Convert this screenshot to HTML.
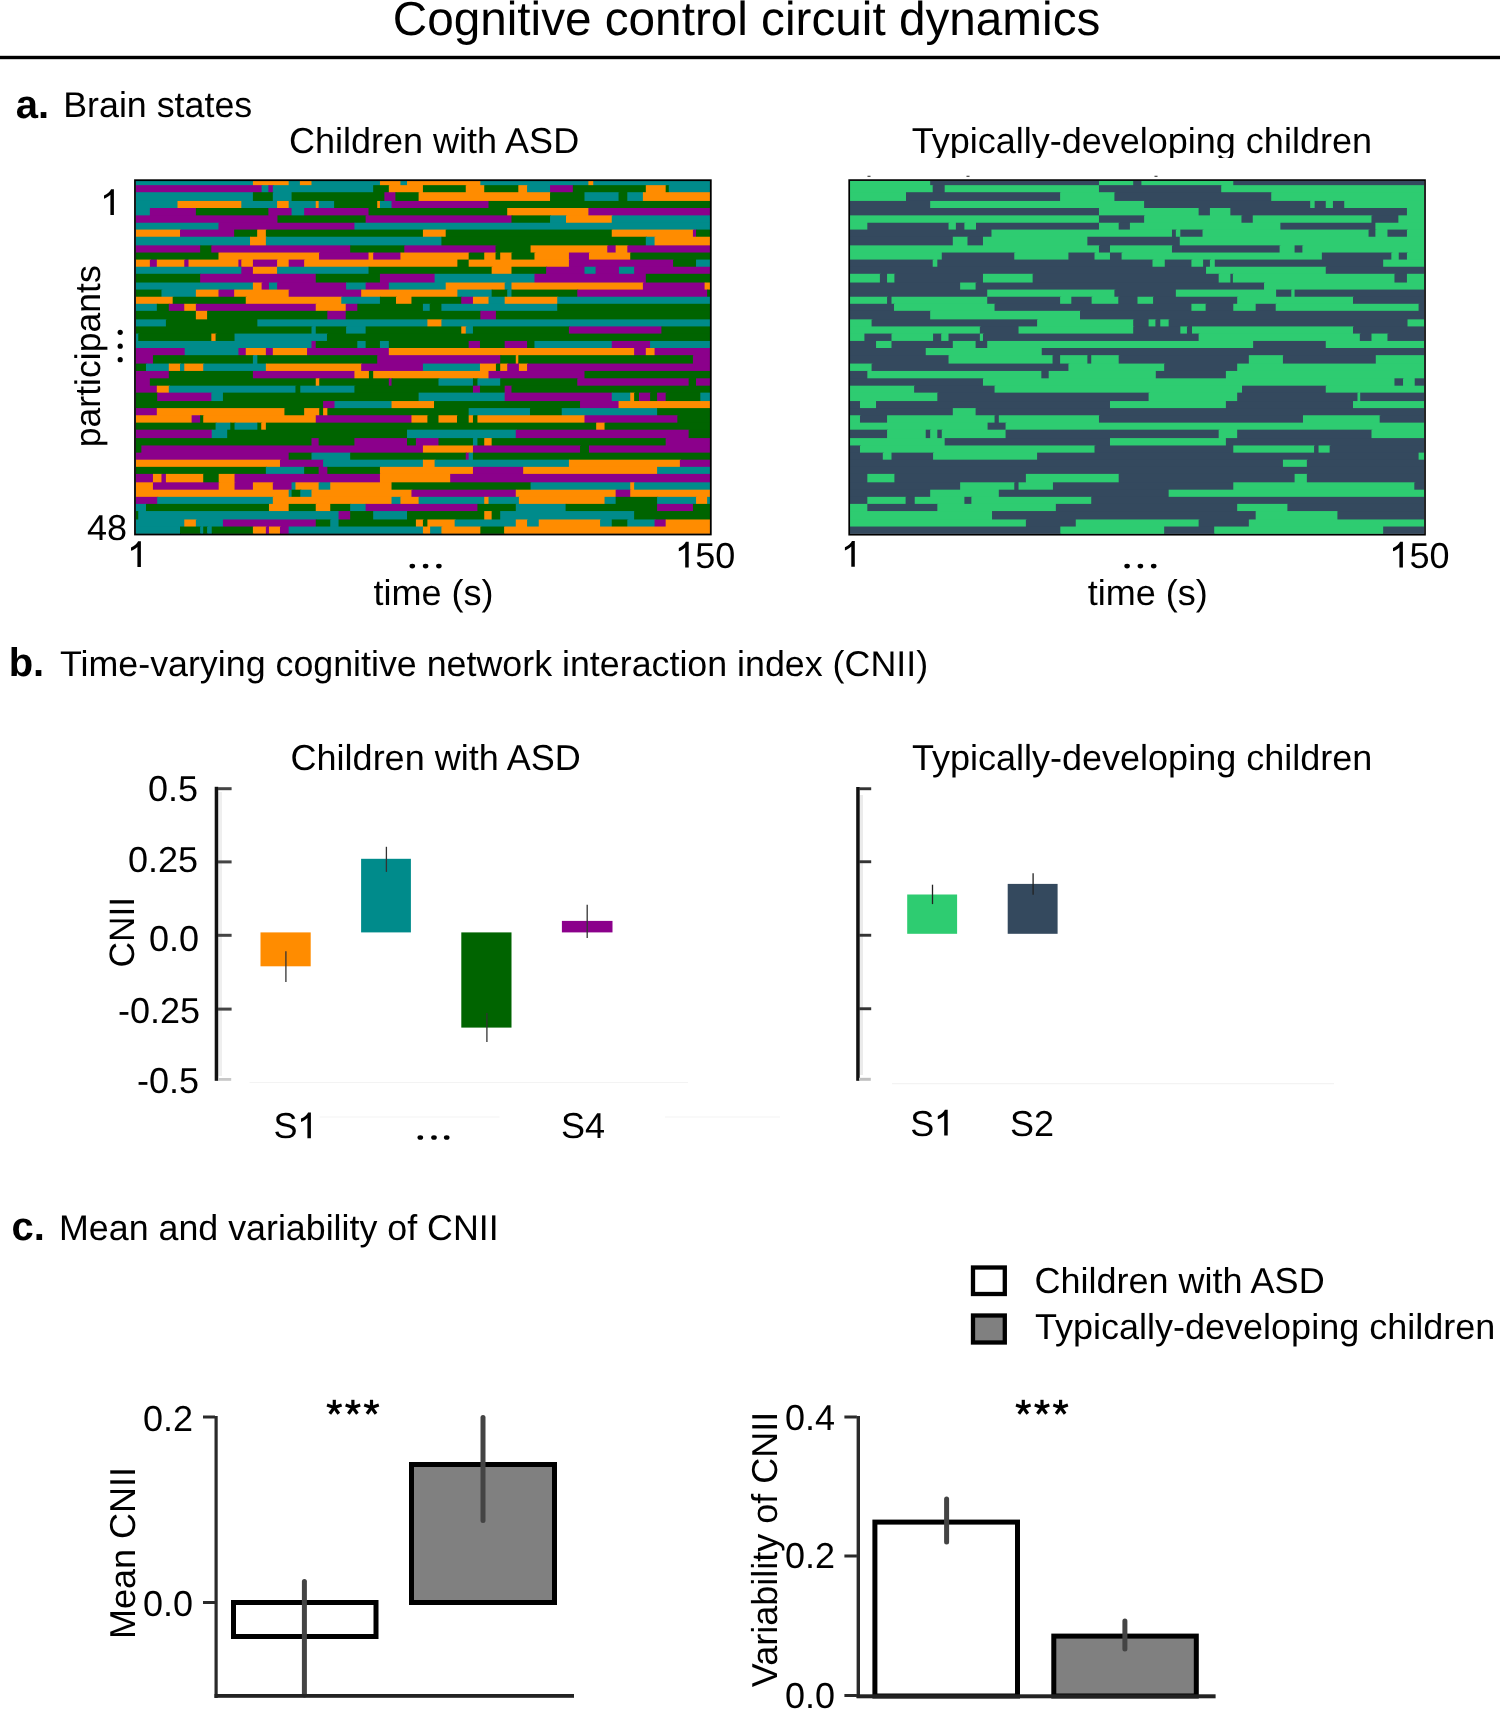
<!DOCTYPE html>
<html><head><meta charset="utf-8"><style>
html,body{margin:0;padding:0;background:#fff;}
body{width:1500px;height:1709px;overflow:hidden;}
svg{display:block;will-change:transform;}
text{font-family:"Liberation Sans",sans-serif;fill:#000;text-rendering:geometricPrecision;}
</style></head><body>
<svg width="1500" height="1709" viewBox="0 0 1500 1709">
<defs><path id="one" d="M0,0 V-25.8 H-2.8 C-3.8,-23.4 -6.6,-21.2 -9.9,-19.6 V-16.3 C-7.5,-17.2 -5.3,-18.5 -3.5,-20.2 V0 Z" fill="#000"/><g id="ast" stroke="#000" stroke-width="3.2"><line x1="0" y1="0" x2="0" y2="-7.7"/><line x1="0" y1="0" x2="7.3" y2="-2.4"/><line x1="0" y1="0" x2="-7.3" y2="-2.4"/><line x1="0" y1="0" x2="4.5" y2="6.2"/><line x1="0" y1="0" x2="-4.5" y2="6.2"/></g></defs>
<rect width="1500" height="1709" fill="#fff"/>
<!-- title -->
<text x="392.7" y="35" font-size="47.7">Cognitive control circuit dynamics</text>
<rect x="0" y="55.8" width="1500" height="3.4" fill="#000"/>

<!-- panel a -->
<text x="15.8" y="117.7" font-size="40" font-weight="bold">a.</text>
<text x="63.2" y="117.2" font-size="35.8">Brain states</text>
<text x="289" y="153" font-size="36">Children with ASD</text>
<svg x="900" y="120" width="500" height="38" overflow="hidden"><text x="11.7" y="33.3" font-size="36">Typically-developing children</text></svg>

<g shape-rendering="auto"><rect x="136.00" y="180.95" width="117.91" height="5.21" fill="#008b8b"/><rect x="252.91" y="180.95" width="36.77" height="5.21" fill="#ff8c00"/><rect x="288.68" y="180.95" width="12.21" height="5.21" fill="#008b8b"/><rect x="299.89" y="180.95" width="12.60" height="5.21" fill="#ff8c00"/><rect x="311.49" y="180.95" width="69.45" height="5.21" fill="#008b8b"/><rect x="379.94" y="180.95" width="21.49" height="5.21" fill="#ff8c00"/><rect x="400.43" y="180.95" width="7.57" height="5.21" fill="#008b8b"/><rect x="407.01" y="180.95" width="74.34" height="5.21" fill="#ff8c00"/><rect x="480.35" y="180.95" width="109.04" height="5.21" fill="#008b8b"/><rect x="588.39" y="180.95" width="5.87" height="5.21" fill="#ff8c00"/><rect x="593.25" y="180.95" width="116.75" height="5.21" fill="#008b8b"/><rect x="136.00" y="185.16" width="126.61" height="8.05" fill="#8b008b"/><rect x="261.61" y="185.16" width="7.77" height="8.05" fill="#008b8b"/><rect x="268.38" y="185.16" width="5.45" height="8.05" fill="#8b008b"/><rect x="272.82" y="185.16" width="101.35" height="8.05" fill="#008b8b"/><rect x="373.17" y="185.16" width="16.66" height="8.05" fill="#006400"/><rect x="388.83" y="185.16" width="35.09" height="8.05" fill="#ff8c00"/><rect x="422.92" y="185.16" width="43.83" height="8.05" fill="#006400"/><rect x="465.75" y="185.16" width="19.49" height="8.05" fill="#ff8c00"/><rect x="484.24" y="185.16" width="35.07" height="8.05" fill="#006400"/><rect x="518.31" y="185.16" width="9.76" height="8.05" fill="#ff8c00"/><rect x="527.07" y="185.16" width="23.97" height="8.05" fill="#008b8b"/><rect x="550.04" y="185.16" width="23.78" height="8.05" fill="#8b008b"/><rect x="572.81" y="185.16" width="74.00" height="8.05" fill="#006400"/><rect x="645.81" y="185.16" width="20.86" height="8.05" fill="#ff8c00"/><rect x="665.67" y="185.16" width="4.11" height="8.05" fill="#006400"/><rect x="668.78" y="185.16" width="41.22" height="8.05" fill="#008b8b"/><rect x="136.00" y="192.21" width="117.91" height="9.74" fill="#008b8b"/><rect x="252.91" y="192.21" width="20.91" height="9.74" fill="#006400"/><rect x="272.82" y="192.21" width="19.75" height="9.74" fill="#008b8b"/><rect x="291.58" y="192.21" width="93.81" height="9.74" fill="#006400"/><rect x="384.39" y="192.21" width="12.02" height="9.74" fill="#8b008b"/><rect x="395.41" y="192.21" width="24.20" height="9.74" fill="#006400"/><rect x="418.61" y="192.21" width="132.43" height="9.74" fill="#ff8c00"/><rect x="550.04" y="192.21" width="35.46" height="9.74" fill="#006400"/><rect x="584.49" y="192.21" width="35.07" height="9.74" fill="#008b8b"/><rect x="618.56" y="192.21" width="9.76" height="9.74" fill="#006400"/><rect x="627.32" y="192.21" width="16.57" height="9.74" fill="#008b8b"/><rect x="642.89" y="192.21" width="67.11" height="9.74" fill="#ff8c00"/><rect x="136.00" y="200.95" width="42.50" height="8.05" fill="#008b8b"/><rect x="177.50" y="200.95" width="64.81" height="8.05" fill="#ff8c00"/><rect x="241.31" y="200.95" width="36.77" height="8.05" fill="#008b8b"/><rect x="277.08" y="200.95" width="12.60" height="8.05" fill="#ff8c00"/><rect x="288.68" y="200.95" width="28.07" height="8.05" fill="#008b8b"/><rect x="315.75" y="200.95" width="3.90" height="8.05" fill="#ff8c00"/><rect x="318.65" y="200.95" width="16.47" height="8.05" fill="#008b8b"/><rect x="334.12" y="200.95" width="44.12" height="8.05" fill="#006400"/><rect x="377.23" y="200.95" width="3.71" height="8.05" fill="#ff8c00"/><rect x="379.94" y="200.95" width="12.60" height="8.05" fill="#008b8b"/><rect x="391.54" y="200.95" width="97.98" height="8.05" fill="#8b008b"/><rect x="488.52" y="200.95" width="221.48" height="8.05" fill="#006400"/><rect x="136.00" y="208.00" width="14.85" height="8.37" fill="#008b8b"/><rect x="149.85" y="208.00" width="47.02" height="8.37" fill="#8b008b"/><rect x="195.87" y="208.00" width="73.51" height="8.37" fill="#006400"/><rect x="268.38" y="208.00" width="24.20" height="8.37" fill="#8b008b"/><rect x="291.58" y="208.00" width="13.57" height="8.37" fill="#008b8b"/><rect x="304.15" y="208.00" width="65.39" height="8.37" fill="#8b008b"/><rect x="368.53" y="208.00" width="139.68" height="8.37" fill="#006400"/><rect x="507.21" y="208.00" width="82.18" height="8.37" fill="#ff8c00"/><rect x="588.39" y="208.00" width="121.61" height="8.37" fill="#8b008b"/><rect x="136.00" y="215.37" width="142.46" height="8.37" fill="#8b008b"/><rect x="277.46" y="215.37" width="89.17" height="8.37" fill="#006400"/><rect x="365.63" y="215.37" width="146.86" height="8.37" fill="#8b008b"/><rect x="511.49" y="215.37" width="39.54" height="8.37" fill="#006400"/><rect x="550.04" y="215.37" width="16.96" height="8.37" fill="#008b8b"/><rect x="566.00" y="215.37" width="46.75" height="8.37" fill="#ff8c00"/><rect x="611.75" y="215.37" width="98.25" height="8.37" fill="#008b8b"/><rect x="136.00" y="222.74" width="83.49" height="7.84" fill="#008b8b"/><rect x="218.49" y="222.74" width="136.92" height="7.84" fill="#8b008b"/><rect x="354.42" y="222.74" width="355.58" height="7.84" fill="#008b8b"/><rect x="136.00" y="229.58" width="45.02" height="8.16" fill="#ff8c00"/><rect x="180.02" y="229.58" width="55.14" height="8.16" fill="#8b008b"/><rect x="234.15" y="229.58" width="24.01" height="8.16" fill="#006400"/><rect x="257.16" y="229.58" width="9.70" height="8.16" fill="#ff8c00"/><rect x="265.86" y="229.58" width="158.06" height="8.16" fill="#006400"/><rect x="422.92" y="229.58" width="23.78" height="8.16" fill="#ff8c00"/><rect x="445.70" y="229.58" width="167.05" height="8.16" fill="#006400"/><rect x="611.75" y="229.58" width="82.18" height="8.16" fill="#ff8c00"/><rect x="692.92" y="229.58" width="4.11" height="8.16" fill="#8b008b"/><rect x="696.04" y="229.58" width="13.96" height="8.16" fill="#006400"/><rect x="136.00" y="236.74" width="115.01" height="9.63" fill="#008b8b"/><rect x="250.01" y="236.74" width="16.85" height="9.63" fill="#ff8c00"/><rect x="265.86" y="236.74" width="176.55" height="9.63" fill="#008b8b"/><rect x="441.41" y="236.74" width="205.40" height="9.63" fill="#006400"/><rect x="645.81" y="236.74" width="9.76" height="9.63" fill="#008b8b"/><rect x="654.57" y="236.74" width="55.43" height="9.63" fill="#ff8c00"/><rect x="136.00" y="245.37" width="65.13" height="8.16" fill="#8b008b"/><rect x="200.13" y="245.37" width="12.21" height="8.16" fill="#006400"/><rect x="211.34" y="245.37" width="139.82" height="8.16" fill="#8b008b"/><rect x="350.16" y="245.37" width="55.14" height="8.16" fill="#006400"/><rect x="404.30" y="245.37" width="92.23" height="8.16" fill="#8b008b"/><rect x="495.53" y="245.37" width="36.04" height="8.16" fill="#006400"/><rect x="530.57" y="245.37" width="77.70" height="8.16" fill="#ff8c00"/><rect x="607.27" y="245.37" width="9.37" height="8.16" fill="#8b008b"/><rect x="615.64" y="245.37" width="12.68" height="8.16" fill="#ff8c00"/><rect x="627.32" y="245.37" width="82.68" height="8.16" fill="#8b008b"/><rect x="136.00" y="252.53" width="83.49" height="8.05" fill="#006400"/><rect x="218.49" y="252.53" width="101.54" height="8.05" fill="#ff8c00"/><rect x="319.03" y="252.53" width="50.50" height="8.05" fill="#8b008b"/><rect x="368.53" y="252.53" width="5.64" height="8.05" fill="#ff8c00"/><rect x="373.17" y="252.53" width="28.26" height="8.05" fill="#8b008b"/><rect x="400.43" y="252.53" width="69.23" height="8.05" fill="#ff8c00"/><rect x="468.67" y="252.53" width="16.57" height="8.05" fill="#006400"/><rect x="484.24" y="252.53" width="12.29" height="8.05" fill="#ff8c00"/><rect x="495.53" y="252.53" width="5.67" height="8.05" fill="#006400"/><rect x="500.20" y="252.53" width="12.29" height="8.05" fill="#ff8c00"/><rect x="511.49" y="252.53" width="23.97" height="8.05" fill="#006400"/><rect x="534.46" y="252.53" width="35.46" height="8.05" fill="#ff8c00"/><rect x="568.92" y="252.53" width="21.05" height="8.05" fill="#8b008b"/><rect x="588.97" y="252.53" width="42.27" height="8.05" fill="#ff8c00"/><rect x="630.24" y="252.53" width="79.76" height="8.05" fill="#006400"/><rect x="136.00" y="259.58" width="14.85" height="8.16" fill="#ff8c00"/><rect x="149.85" y="259.58" width="7.96" height="8.16" fill="#8b008b"/><rect x="156.82" y="259.58" width="28.46" height="8.16" fill="#ff8c00"/><rect x="184.27" y="259.58" width="5.25" height="8.16" fill="#8b008b"/><rect x="188.52" y="259.58" width="50.88" height="8.16" fill="#ff8c00"/><rect x="238.41" y="259.58" width="3.90" height="8.16" fill="#8b008b"/><rect x="241.31" y="259.58" width="12.60" height="8.16" fill="#ff8c00"/><rect x="252.91" y="259.58" width="25.17" height="8.16" fill="#8b008b"/><rect x="277.08" y="259.58" width="12.60" height="8.16" fill="#ff8c00"/><rect x="288.68" y="259.58" width="16.47" height="8.16" fill="#8b008b"/><rect x="304.15" y="259.58" width="154.23" height="8.16" fill="#ff8c00"/><rect x="457.38" y="259.58" width="12.29" height="8.16" fill="#006400"/><rect x="468.67" y="259.58" width="101.25" height="8.16" fill="#ff8c00"/><rect x="568.92" y="259.58" width="105.15" height="8.16" fill="#8b008b"/><rect x="673.07" y="259.58" width="23.97" height="8.16" fill="#006400"/><rect x="696.04" y="259.58" width="13.96" height="8.16" fill="#008b8b"/><rect x="136.00" y="266.74" width="106.31" height="8.05" fill="#008b8b"/><rect x="241.31" y="266.74" width="12.60" height="8.05" fill="#8b008b"/><rect x="252.91" y="266.74" width="25.17" height="8.05" fill="#ff8c00"/><rect x="277.08" y="266.74" width="92.45" height="8.05" fill="#008b8b"/><rect x="368.53" y="266.74" width="124.11" height="8.05" fill="#006400"/><rect x="491.64" y="266.74" width="20.86" height="8.05" fill="#ff8c00"/><rect x="511.49" y="266.74" width="35.65" height="8.05" fill="#006400"/><rect x="546.14" y="266.74" width="39.35" height="8.05" fill="#8b008b"/><rect x="584.49" y="266.74" width="12.10" height="8.05" fill="#008b8b"/><rect x="595.59" y="266.74" width="24.36" height="8.05" fill="#8b008b"/><rect x="618.95" y="266.74" width="16.18" height="8.05" fill="#008b8b"/><rect x="634.13" y="266.74" width="75.87" height="8.05" fill="#8b008b"/><rect x="136.00" y="273.79" width="65.13" height="9.74" fill="#006400"/><rect x="200.13" y="273.79" width="116.62" height="9.74" fill="#8b008b"/><rect x="315.75" y="273.79" width="65.19" height="9.74" fill="#006400"/><rect x="379.94" y="273.79" width="55.66" height="9.74" fill="#8b008b"/><rect x="434.60" y="273.79" width="100.86" height="9.74" fill="#008b8b"/><rect x="534.46" y="273.79" width="112.35" height="9.74" fill="#8b008b"/><rect x="645.81" y="273.79" width="64.19" height="9.74" fill="#006400"/><rect x="136.00" y="282.53" width="117.91" height="8.05" fill="#008b8b"/><rect x="252.91" y="282.53" width="9.70" height="8.05" fill="#ff8c00"/><rect x="261.61" y="282.53" width="8.35" height="8.05" fill="#8b008b"/><rect x="268.96" y="282.53" width="9.12" height="8.05" fill="#008b8b"/><rect x="277.08" y="282.53" width="70.03" height="8.05" fill="#8b008b"/><rect x="346.10" y="282.53" width="20.53" height="8.05" fill="#008b8b"/><rect x="365.63" y="282.53" width="24.20" height="8.05" fill="#8b008b"/><rect x="388.83" y="282.53" width="57.86" height="8.05" fill="#008b8b"/><rect x="445.70" y="282.53" width="59.98" height="8.05" fill="#ff8c00"/><rect x="504.68" y="282.53" width="7.81" height="8.05" fill="#008b8b"/><rect x="511.49" y="282.53" width="132.40" height="8.05" fill="#ff8c00"/><rect x="642.89" y="282.53" width="62.71" height="8.05" fill="#8b008b"/><rect x="704.60" y="282.53" width="5.40" height="8.05" fill="#ff8c00"/><rect x="136.00" y="289.58" width="26.46" height="8.16" fill="#006400"/><rect x="161.46" y="289.58" width="35.42" height="8.16" fill="#008b8b"/><rect x="195.87" y="289.58" width="23.62" height="8.16" fill="#ff8c00"/><rect x="218.49" y="289.58" width="16.66" height="8.16" fill="#8b008b"/><rect x="234.15" y="289.58" width="55.52" height="8.16" fill="#ff8c00"/><rect x="288.68" y="289.58" width="73.51" height="8.16" fill="#8b008b"/><rect x="361.18" y="289.58" width="97.19" height="8.16" fill="#ff8c00"/><rect x="457.38" y="289.58" width="35.26" height="8.16" fill="#008b8b"/><rect x="491.64" y="289.58" width="16.57" height="8.16" fill="#006400"/><rect x="507.21" y="289.58" width="5.28" height="8.16" fill="#008b8b"/><rect x="511.49" y="289.58" width="66.80" height="8.16" fill="#006400"/><rect x="577.29" y="289.58" width="130.84" height="8.16" fill="#8b008b"/><rect x="707.13" y="289.58" width="2.87" height="8.16" fill="#006400"/><rect x="136.00" y="296.74" width="37.67" height="8.05" fill="#ff8c00"/><rect x="172.67" y="296.74" width="74.09" height="8.05" fill="#006400"/><rect x="245.76" y="296.74" width="96.51" height="8.05" fill="#ff8c00"/><rect x="341.27" y="296.74" width="39.67" height="8.05" fill="#008b8b"/><rect x="379.94" y="296.74" width="17.05" height="8.05" fill="#006400"/><rect x="395.99" y="296.74" width="16.47" height="8.05" fill="#ff8c00"/><rect x="411.46" y="296.74" width="50.81" height="8.05" fill="#006400"/><rect x="461.27" y="296.74" width="12.68" height="8.05" fill="#8b008b"/><rect x="472.95" y="296.74" width="16.57" height="8.05" fill="#ff8c00"/><rect x="488.52" y="296.74" width="17.16" height="8.05" fill="#008b8b"/><rect x="504.68" y="296.74" width="53.56" height="8.05" fill="#ff8c00"/><rect x="557.24" y="296.74" width="152.76" height="8.05" fill="#008b8b"/><rect x="136.00" y="303.79" width="21.82" height="8.05" fill="#008b8b"/><rect x="156.82" y="303.79" width="12.99" height="8.05" fill="#006400"/><rect x="168.80" y="303.79" width="16.47" height="8.05" fill="#8b008b"/><rect x="184.27" y="303.79" width="12.60" height="8.05" fill="#ff8c00"/><rect x="195.87" y="303.79" width="120.88" height="8.05" fill="#8b008b"/><rect x="315.75" y="303.79" width="30.97" height="8.05" fill="#ff8c00"/><rect x="345.72" y="303.79" width="12.60" height="8.05" fill="#8b008b"/><rect x="357.32" y="303.79" width="66.60" height="8.05" fill="#006400"/><rect x="422.92" y="303.79" width="7.81" height="8.05" fill="#008b8b"/><rect x="429.73" y="303.79" width="12.68" height="8.05" fill="#006400"/><rect x="441.41" y="303.79" width="116.83" height="8.05" fill="#008b8b"/><rect x="557.24" y="303.79" width="152.76" height="8.05" fill="#006400"/><rect x="136.00" y="310.84" width="60.87" height="9.53" fill="#006400"/><rect x="195.87" y="310.84" width="12.21" height="9.53" fill="#ff8c00"/><rect x="207.09" y="310.84" width="121.26" height="9.53" fill="#006400"/><rect x="327.35" y="310.84" width="19.37" height="9.53" fill="#8b008b"/><rect x="345.72" y="310.84" width="135.63" height="9.53" fill="#006400"/><rect x="480.35" y="310.84" width="16.57" height="9.53" fill="#8b008b"/><rect x="495.92" y="310.84" width="214.08" height="9.53" fill="#006400"/><rect x="136.00" y="319.37" width="30.90" height="8.05" fill="#008b8b"/><rect x="165.90" y="319.37" width="92.45" height="8.05" fill="#006400"/><rect x="257.36" y="319.37" width="171.04" height="8.05" fill="#008b8b"/><rect x="427.40" y="319.37" width="15.02" height="8.05" fill="#ff8c00"/><rect x="441.41" y="319.37" width="268.59" height="8.05" fill="#008b8b"/><rect x="136.00" y="326.42" width="176.49" height="8.16" fill="#006400"/><rect x="311.49" y="326.42" width="5.25" height="8.16" fill="#008b8b"/><rect x="315.75" y="326.42" width="31.36" height="8.16" fill="#006400"/><rect x="346.10" y="326.42" width="20.53" height="8.16" fill="#008b8b"/><rect x="365.63" y="326.42" width="96.64" height="8.16" fill="#006400"/><rect x="461.27" y="326.42" width="5.48" height="8.16" fill="#ff8c00"/><rect x="465.75" y="326.42" width="8.20" height="8.16" fill="#008b8b"/><rect x="472.95" y="326.42" width="96.97" height="8.16" fill="#006400"/><rect x="568.92" y="326.42" width="93.47" height="8.16" fill="#8b008b"/><rect x="661.39" y="326.42" width="48.61" height="8.16" fill="#006400"/><rect x="136.00" y="333.58" width="3.25" height="8.37" fill="#008b8b"/><rect x="138.25" y="333.58" width="74.09" height="8.37" fill="#006400"/><rect x="211.34" y="333.58" width="5.25" height="8.37" fill="#ff8c00"/><rect x="215.59" y="333.58" width="19.95" height="8.37" fill="#006400"/><rect x="234.54" y="333.58" width="93.42" height="8.37" fill="#008b8b"/><rect x="326.96" y="333.58" width="383.04" height="8.37" fill="#006400"/><rect x="136.00" y="340.95" width="176.49" height="8.05" fill="#008b8b"/><rect x="311.49" y="340.95" width="5.25" height="8.05" fill="#8b008b"/><rect x="315.75" y="340.95" width="42.57" height="8.05" fill="#006400"/><rect x="357.32" y="340.95" width="9.31" height="8.05" fill="#008b8b"/><rect x="365.63" y="340.95" width="15.31" height="8.05" fill="#006400"/><rect x="379.94" y="340.95" width="9.89" height="8.05" fill="#008b8b"/><rect x="388.83" y="340.95" width="80.83" height="8.05" fill="#006400"/><rect x="468.67" y="340.95" width="12.29" height="8.05" fill="#8b008b"/><rect x="479.96" y="340.95" width="25.72" height="8.05" fill="#006400"/><rect x="504.68" y="340.95" width="23.39" height="8.05" fill="#8b008b"/><rect x="527.07" y="340.95" width="8.40" height="8.05" fill="#006400"/><rect x="534.46" y="340.95" width="78.28" height="8.05" fill="#008b8b"/><rect x="611.75" y="340.95" width="39.35" height="8.05" fill="#8b008b"/><rect x="650.10" y="340.95" width="59.90" height="8.05" fill="#008b8b"/><rect x="136.00" y="348.00" width="49.66" height="8.16" fill="#8b008b"/><rect x="184.66" y="348.00" width="54.75" height="8.16" fill="#008b8b"/><rect x="238.41" y="348.00" width="8.35" height="8.16" fill="#8b008b"/><rect x="245.76" y="348.00" width="21.11" height="8.16" fill="#ff8c00"/><rect x="265.86" y="348.00" width="7.96" height="8.16" fill="#8b008b"/><rect x="272.82" y="348.00" width="35.22" height="8.16" fill="#ff8c00"/><rect x="307.05" y="348.00" width="82.79" height="8.16" fill="#8b008b"/><rect x="388.83" y="348.00" width="246.30" height="8.16" fill="#ff8c00"/><rect x="634.13" y="348.00" width="12.68" height="8.16" fill="#8b008b"/><rect x="645.81" y="348.00" width="9.76" height="8.16" fill="#ff8c00"/><rect x="654.57" y="348.00" width="55.43" height="8.16" fill="#8b008b"/><rect x="136.00" y="355.16" width="17.95" height="9.42" fill="#8b008b"/><rect x="152.95" y="355.16" width="100.96" height="9.42" fill="#006400"/><rect x="252.91" y="355.16" width="5.45" height="9.42" fill="#008b8b"/><rect x="257.36" y="355.16" width="120.88" height="9.42" fill="#006400"/><rect x="377.23" y="355.16" width="123.97" height="9.42" fill="#8b008b"/><rect x="500.20" y="355.16" width="16.57" height="9.42" fill="#006400"/><rect x="515.78" y="355.16" width="3.53" height="9.42" fill="#ff8c00"/><rect x="518.31" y="355.16" width="175.62" height="9.42" fill="#006400"/><rect x="692.92" y="355.16" width="17.08" height="9.42" fill="#8b008b"/><rect x="136.00" y="363.58" width="10.99" height="8.37" fill="#006400"/><rect x="145.99" y="363.58" width="23.82" height="8.37" fill="#008b8b"/><rect x="168.80" y="363.58" width="12.21" height="8.37" fill="#ff8c00"/><rect x="180.02" y="363.58" width="5.25" height="8.37" fill="#008b8b"/><rect x="184.27" y="363.58" width="19.95" height="8.37" fill="#ff8c00"/><rect x="203.22" y="363.58" width="63.65" height="8.37" fill="#008b8b"/><rect x="265.86" y="363.58" width="96.32" height="8.37" fill="#ff8c00"/><rect x="361.18" y="363.58" width="62.74" height="8.37" fill="#8b008b"/><rect x="422.92" y="363.58" width="58.04" height="8.37" fill="#008b8b"/><rect x="479.96" y="363.58" width="16.96" height="8.37" fill="#ff8c00"/><rect x="495.92" y="363.58" width="5.28" height="8.37" fill="#006400"/><rect x="500.20" y="363.58" width="8.01" height="8.37" fill="#ff8c00"/><rect x="507.21" y="363.58" width="12.68" height="8.37" fill="#8b008b"/><rect x="518.89" y="363.58" width="9.18" height="8.37" fill="#ff8c00"/><rect x="527.07" y="363.58" width="182.93" height="8.37" fill="#8b008b"/><rect x="136.00" y="370.95" width="33.80" height="8.37" fill="#8b008b"/><rect x="168.80" y="370.95" width="85.11" height="8.37" fill="#006400"/><rect x="252.91" y="370.95" width="102.51" height="8.37" fill="#8b008b"/><rect x="354.42" y="370.95" width="15.50" height="8.37" fill="#ff8c00"/><rect x="368.92" y="370.95" width="5.25" height="8.37" fill="#006400"/><rect x="373.17" y="370.95" width="116.35" height="8.37" fill="#ff8c00"/><rect x="488.52" y="370.95" width="96.97" height="8.37" fill="#8b008b"/><rect x="584.49" y="370.95" width="125.51" height="8.37" fill="#006400"/><rect x="136.00" y="378.32" width="14.85" height="8.36" fill="#8b008b"/><rect x="149.85" y="378.32" width="166.89" height="8.36" fill="#006400"/><rect x="315.75" y="378.32" width="4.48" height="8.36" fill="#ff8c00"/><rect x="319.23" y="378.32" width="70.61" height="8.36" fill="#006400"/><rect x="388.83" y="378.32" width="3.71" height="8.36" fill="#8b008b"/><rect x="391.54" y="378.32" width="47.95" height="8.36" fill="#006400"/><rect x="438.49" y="378.32" width="35.46" height="8.36" fill="#008b8b"/><rect x="472.95" y="378.32" width="5.48" height="8.36" fill="#006400"/><rect x="477.43" y="378.32" width="23.78" height="8.36" fill="#008b8b"/><rect x="500.20" y="378.32" width="78.09" height="8.36" fill="#006400"/><rect x="577.29" y="378.32" width="112.35" height="8.36" fill="#8b008b"/><rect x="688.64" y="378.32" width="8.40" height="8.36" fill="#006400"/><rect x="696.04" y="378.32" width="13.96" height="8.36" fill="#8b008b"/><rect x="136.00" y="385.68" width="21.82" height="7.95" fill="#8b008b"/><rect x="156.82" y="385.68" width="12.99" height="7.95" fill="#ff8c00"/><rect x="168.80" y="385.68" width="127.64" height="7.95" fill="#008b8b"/><rect x="295.45" y="385.68" width="5.83" height="7.95" fill="#006400"/><rect x="300.28" y="385.68" width="55.14" height="7.95" fill="#008b8b"/><rect x="354.42" y="385.68" width="119.53" height="7.95" fill="#006400"/><rect x="472.95" y="385.68" width="8.01" height="7.95" fill="#8b008b"/><rect x="479.96" y="385.68" width="25.72" height="7.95" fill="#006400"/><rect x="504.68" y="385.68" width="7.81" height="7.95" fill="#8b008b"/><rect x="511.49" y="385.68" width="198.51" height="7.95" fill="#006400"/><rect x="136.00" y="392.63" width="22.20" height="9.42" fill="#006400"/><rect x="157.20" y="392.63" width="55.14" height="9.42" fill="#8b008b"/><rect x="211.34" y="392.63" width="12.60" height="9.42" fill="#008b8b"/><rect x="222.94" y="392.63" width="196.67" height="9.42" fill="#006400"/><rect x="418.61" y="392.63" width="87.07" height="9.42" fill="#008b8b"/><rect x="504.68" y="392.63" width="108.07" height="9.42" fill="#8b008b"/><rect x="611.75" y="392.63" width="19.49" height="9.42" fill="#008b8b"/><rect x="630.24" y="392.63" width="4.89" height="9.42" fill="#ff8c00"/><rect x="634.13" y="392.63" width="5.87" height="9.42" fill="#006400"/><rect x="639.00" y="392.63" width="12.10" height="9.42" fill="#8b008b"/><rect x="650.10" y="392.63" width="8.01" height="9.42" fill="#006400"/><rect x="657.10" y="392.63" width="9.57" height="9.42" fill="#8b008b"/><rect x="665.67" y="392.63" width="35.65" height="9.42" fill="#006400"/><rect x="700.32" y="392.63" width="9.68" height="9.42" fill="#008b8b"/><rect x="136.00" y="401.05" width="188.10" height="8.05" fill="#006400"/><rect x="323.10" y="401.05" width="12.41" height="8.05" fill="#8b008b"/><rect x="334.50" y="401.05" width="58.04" height="8.05" fill="#008b8b"/><rect x="391.54" y="401.05" width="43.48" height="8.05" fill="#ff8c00"/><rect x="434.02" y="401.05" width="147.00" height="8.05" fill="#006400"/><rect x="580.02" y="401.05" width="39.54" height="8.05" fill="#8b008b"/><rect x="618.56" y="401.05" width="91.44" height="8.05" fill="#ff8c00"/><rect x="136.00" y="408.10" width="21.82" height="8.16" fill="#8b008b"/><rect x="156.82" y="408.10" width="128.61" height="8.16" fill="#ff8c00"/><rect x="284.43" y="408.10" width="20.72" height="8.16" fill="#006400"/><rect x="304.15" y="408.10" width="16.08" height="8.16" fill="#ff8c00"/><rect x="319.23" y="408.10" width="4.87" height="8.16" fill="#006400"/><rect x="323.10" y="408.10" width="5.25" height="8.16" fill="#ff8c00"/><rect x="327.35" y="408.10" width="142.32" height="8.16" fill="#006400"/><rect x="468.67" y="408.10" width="62.32" height="8.16" fill="#008b8b"/><rect x="529.99" y="408.10" width="32.73" height="8.16" fill="#006400"/><rect x="561.72" y="408.10" width="96.39" height="8.16" fill="#008b8b"/><rect x="657.10" y="408.10" width="52.90" height="8.16" fill="#006400"/><rect x="136.00" y="415.26" width="56.62" height="8.37" fill="#ff8c00"/><rect x="191.62" y="415.26" width="9.51" height="8.37" fill="#8b008b"/><rect x="200.13" y="415.26" width="4.09" height="8.37" fill="#006400"/><rect x="203.22" y="415.26" width="113.53" height="8.37" fill="#ff8c00"/><rect x="315.75" y="415.26" width="96.71" height="8.37" fill="#8b008b"/><rect x="411.46" y="415.26" width="16.94" height="8.37" fill="#ff8c00"/><rect x="427.40" y="415.26" width="12.10" height="8.37" fill="#006400"/><rect x="438.49" y="415.26" width="19.49" height="8.37" fill="#ff8c00"/><rect x="456.99" y="415.26" width="12.68" height="8.37" fill="#006400"/><rect x="468.67" y="415.26" width="5.28" height="8.37" fill="#ff8c00"/><rect x="472.95" y="415.26" width="5.48" height="8.37" fill="#006400"/><rect x="477.43" y="415.26" width="108.07" height="8.37" fill="#ff8c00"/><rect x="584.49" y="415.26" width="93.86" height="8.37" fill="#8b008b"/><rect x="677.35" y="415.26" width="32.65" height="8.37" fill="#006400"/><rect x="136.00" y="422.63" width="80.59" height="8.05" fill="#006400"/><rect x="215.59" y="422.63" width="15.69" height="8.05" fill="#008b8b"/><rect x="230.29" y="422.63" width="5.25" height="8.05" fill="#006400"/><rect x="234.54" y="422.63" width="23.82" height="8.05" fill="#008b8b"/><rect x="257.36" y="422.63" width="4.87" height="8.05" fill="#006400"/><rect x="261.22" y="422.63" width="5.64" height="8.05" fill="#ff8c00"/><rect x="265.86" y="422.63" width="331.31" height="8.05" fill="#006400"/><rect x="596.17" y="422.63" width="9.37" height="8.05" fill="#ff8c00"/><rect x="604.54" y="422.63" width="105.46" height="8.05" fill="#006400"/><rect x="136.00" y="429.68" width="76.73" height="9.42" fill="#8b008b"/><rect x="211.73" y="429.68" width="16.47" height="9.42" fill="#008b8b"/><rect x="227.19" y="429.68" width="180.81" height="9.42" fill="#006400"/><rect x="407.01" y="429.68" width="109.77" height="9.42" fill="#008b8b"/><rect x="515.78" y="429.68" width="173.86" height="9.42" fill="#8b008b"/><rect x="688.64" y="429.68" width="21.36" height="9.42" fill="#006400"/><rect x="136.00" y="438.10" width="176.49" height="8.37" fill="#006400"/><rect x="311.49" y="438.10" width="8.15" height="8.37" fill="#8b008b"/><rect x="318.65" y="438.10" width="36.77" height="8.37" fill="#006400"/><rect x="354.42" y="438.10" width="53.59" height="8.37" fill="#8b008b"/><rect x="407.01" y="438.10" width="9.89" height="8.37" fill="#006400"/><rect x="415.90" y="438.10" width="23.59" height="8.37" fill="#8b008b"/><rect x="438.49" y="438.10" width="35.46" height="8.37" fill="#006400"/><rect x="472.95" y="438.10" width="5.48" height="8.37" fill="#008b8b"/><rect x="477.43" y="438.10" width="7.81" height="8.37" fill="#006400"/><rect x="484.24" y="438.10" width="8.40" height="8.37" fill="#ff8c00"/><rect x="491.64" y="438.10" width="175.03" height="8.37" fill="#006400"/><rect x="665.67" y="438.10" width="44.33" height="8.37" fill="#8b008b"/><rect x="136.00" y="445.47" width="6.35" height="8.16" fill="#006400"/><rect x="141.35" y="445.47" width="282.57" height="8.16" fill="#8b008b"/><rect x="422.92" y="445.47" width="51.03" height="8.16" fill="#ff8c00"/><rect x="472.95" y="445.47" width="108.07" height="8.16" fill="#8b008b"/><rect x="580.02" y="445.47" width="9.95" height="8.16" fill="#006400"/><rect x="588.97" y="445.47" width="121.03" height="8.16" fill="#8b008b"/><rect x="136.00" y="452.63" width="153.68" height="8.05" fill="#8b008b"/><rect x="288.68" y="452.63" width="23.82" height="8.05" fill="#006400"/><rect x="311.49" y="452.63" width="39.67" height="8.05" fill="#008b8b"/><rect x="350.16" y="452.63" width="116.58" height="8.05" fill="#006400"/><rect x="465.75" y="452.63" width="3.92" height="8.05" fill="#8b008b"/><rect x="468.67" y="452.63" width="5.28" height="8.05" fill="#008b8b"/><rect x="472.95" y="452.63" width="237.05" height="8.05" fill="#006400"/><rect x="136.00" y="459.68" width="144.98" height="8.16" fill="#ff8c00"/><rect x="279.98" y="459.68" width="44.12" height="8.16" fill="#8b008b"/><rect x="323.10" y="459.68" width="100.82" height="8.16" fill="#008b8b"/><rect x="422.92" y="459.68" width="12.68" height="8.16" fill="#ff8c00"/><rect x="434.60" y="459.68" width="135.32" height="8.16" fill="#008b8b"/><rect x="568.92" y="459.68" width="111.96" height="8.16" fill="#ff8c00"/><rect x="679.88" y="459.68" width="30.12" height="8.16" fill="#8b008b"/><rect x="136.00" y="466.84" width="130.86" height="8.05" fill="#006400"/><rect x="265.86" y="466.84" width="39.28" height="8.05" fill="#008b8b"/><rect x="304.15" y="466.84" width="15.50" height="8.05" fill="#006400"/><rect x="318.65" y="466.84" width="9.70" height="8.05" fill="#8b008b"/><rect x="327.35" y="466.84" width="53.59" height="8.05" fill="#006400"/><rect x="379.94" y="466.84" width="94.01" height="8.05" fill="#ff8c00"/><rect x="472.95" y="466.84" width="51.22" height="8.05" fill="#8b008b"/><rect x="523.17" y="466.84" width="134.93" height="8.05" fill="#ff8c00"/><rect x="657.10" y="466.84" width="52.90" height="8.05" fill="#008b8b"/><rect x="136.00" y="473.89" width="17.95" height="9.43" fill="#8b008b"/><rect x="152.95" y="473.89" width="9.51" height="9.43" fill="#ff8c00"/><rect x="161.46" y="473.89" width="5.45" height="9.43" fill="#8b008b"/><rect x="165.90" y="473.89" width="38.32" height="9.43" fill="#ff8c00"/><rect x="203.22" y="473.89" width="16.47" height="9.43" fill="#006400"/><rect x="218.69" y="473.89" width="16.85" height="9.43" fill="#ff8c00"/><rect x="234.54" y="473.89" width="146.40" height="9.43" fill="#8b008b"/><rect x="379.94" y="473.89" width="71.23" height="9.43" fill="#ff8c00"/><rect x="450.17" y="473.89" width="259.83" height="9.43" fill="#8b008b"/><rect x="136.00" y="482.32" width="17.95" height="8.36" fill="#ff8c00"/><rect x="152.95" y="482.32" width="66.74" height="8.36" fill="#8b008b"/><rect x="218.69" y="482.32" width="16.85" height="8.36" fill="#ff8c00"/><rect x="234.54" y="482.32" width="19.37" height="8.36" fill="#8b008b"/><rect x="252.91" y="482.32" width="20.91" height="8.36" fill="#ff8c00"/><rect x="272.82" y="482.32" width="19.75" height="8.36" fill="#8b008b"/><rect x="291.58" y="482.32" width="4.87" height="8.36" fill="#008b8b"/><rect x="295.45" y="482.32" width="24.20" height="8.36" fill="#ff8c00"/><rect x="318.65" y="482.32" width="12.60" height="8.36" fill="#008b8b"/><rect x="330.25" y="482.32" width="62.29" height="8.36" fill="#ff8c00"/><rect x="391.54" y="482.32" width="140.03" height="8.36" fill="#006400"/><rect x="530.57" y="482.32" width="100.67" height="8.36" fill="#008b8b"/><rect x="630.24" y="482.32" width="4.89" height="8.36" fill="#ff8c00"/><rect x="634.13" y="482.32" width="75.87" height="8.36" fill="#008b8b"/><rect x="136.00" y="489.68" width="153.68" height="8.16" fill="#ff8c00"/><rect x="288.68" y="489.68" width="3.90" height="8.16" fill="#008b8b"/><rect x="291.58" y="489.68" width="9.70" height="8.16" fill="#006400"/><rect x="300.28" y="489.68" width="12.21" height="8.16" fill="#008b8b"/><rect x="311.49" y="489.68" width="100.96" height="8.16" fill="#ff8c00"/><rect x="411.46" y="489.68" width="105.32" height="8.16" fill="#8b008b"/><rect x="515.78" y="489.68" width="100.86" height="8.16" fill="#ff8c00"/><rect x="615.64" y="489.68" width="15.60" height="8.16" fill="#8b008b"/><rect x="630.24" y="489.68" width="79.76" height="8.16" fill="#ff8c00"/><rect x="136.00" y="496.84" width="22.20" height="8.05" fill="#8b008b"/><rect x="157.20" y="496.84" width="116.62" height="8.05" fill="#008b8b"/><rect x="272.82" y="496.84" width="119.72" height="8.05" fill="#ff8c00"/><rect x="391.54" y="496.84" width="9.89" height="8.05" fill="#008b8b"/><rect x="400.43" y="496.84" width="19.17" height="8.05" fill="#ff8c00"/><rect x="418.61" y="496.84" width="66.63" height="8.05" fill="#008b8b"/><rect x="484.24" y="496.84" width="5.28" height="8.05" fill="#ff8c00"/><rect x="488.52" y="496.84" width="31.37" height="8.05" fill="#008b8b"/><rect x="518.89" y="496.84" width="86.65" height="8.05" fill="#ff8c00"/><rect x="604.54" y="496.84" width="12.10" height="8.05" fill="#008b8b"/><rect x="615.64" y="496.84" width="42.46" height="8.05" fill="#006400"/><rect x="657.10" y="496.84" width="39.93" height="8.05" fill="#008b8b"/><rect x="696.04" y="496.84" width="12.10" height="8.05" fill="#ff8c00"/><rect x="707.13" y="496.84" width="2.87" height="8.05" fill="#008b8b"/><rect x="136.00" y="503.89" width="10.99" height="8.16" fill="#008b8b"/><rect x="145.99" y="503.89" width="123.97" height="8.16" fill="#006400"/><rect x="268.96" y="503.89" width="20.72" height="8.16" fill="#ff8c00"/><rect x="288.68" y="503.89" width="28.07" height="8.16" fill="#006400"/><rect x="315.75" y="503.89" width="15.50" height="8.16" fill="#ff8c00"/><rect x="330.25" y="503.89" width="20.91" height="8.16" fill="#006400"/><rect x="350.16" y="503.89" width="16.47" height="8.16" fill="#008b8b"/><rect x="365.63" y="503.89" width="112.79" height="8.16" fill="#8b008b"/><rect x="477.43" y="503.89" width="39.35" height="8.16" fill="#006400"/><rect x="515.78" y="503.89" width="50.83" height="8.16" fill="#008b8b"/><rect x="565.61" y="503.89" width="92.49" height="8.16" fill="#006400"/><rect x="657.10" y="503.89" width="36.82" height="8.16" fill="#8b008b"/><rect x="692.92" y="503.89" width="17.08" height="8.16" fill="#006400"/><rect x="136.00" y="511.05" width="3.25" height="9.42" fill="#006400"/><rect x="138.25" y="511.05" width="201.31" height="9.42" fill="#008b8b"/><rect x="338.56" y="511.05" width="12.60" height="9.42" fill="#8b008b"/><rect x="350.16" y="511.05" width="24.01" height="9.42" fill="#006400"/><rect x="373.17" y="511.05" width="34.84" height="9.42" fill="#008b8b"/><rect x="407.01" y="511.05" width="78.23" height="9.42" fill="#006400"/><rect x="484.24" y="511.05" width="8.40" height="9.42" fill="#ff8c00"/><rect x="491.64" y="511.05" width="9.57" height="9.42" fill="#006400"/><rect x="500.20" y="511.05" width="134.93" height="9.42" fill="#008b8b"/><rect x="634.13" y="511.05" width="75.87" height="9.42" fill="#006400"/><rect x="136.00" y="519.47" width="49.27" height="8.06" fill="#008b8b"/><rect x="184.27" y="519.47" width="12.60" height="8.06" fill="#ff8c00"/><rect x="195.87" y="519.47" width="28.07" height="8.06" fill="#008b8b"/><rect x="222.94" y="519.47" width="93.81" height="8.06" fill="#8b008b"/><rect x="315.75" y="519.47" width="15.50" height="8.06" fill="#006400"/><rect x="330.25" y="519.47" width="9.31" height="8.06" fill="#008b8b"/><rect x="338.56" y="519.47" width="78.34" height="8.06" fill="#006400"/><rect x="415.90" y="519.47" width="8.02" height="8.06" fill="#ff8c00"/><rect x="422.92" y="519.47" width="5.48" height="8.06" fill="#006400"/><rect x="427.40" y="519.47" width="28.25" height="8.06" fill="#ff8c00"/><rect x="454.65" y="519.47" width="62.13" height="8.06" fill="#008b8b"/><rect x="515.78" y="519.47" width="12.29" height="8.06" fill="#ff8c00"/><rect x="527.07" y="519.47" width="12.68" height="8.06" fill="#008b8b"/><rect x="538.75" y="519.47" width="62.32" height="8.06" fill="#ff8c00"/><rect x="600.07" y="519.47" width="12.68" height="8.06" fill="#008b8b"/><rect x="611.75" y="519.47" width="16.57" height="8.06" fill="#006400"/><rect x="627.32" y="519.47" width="28.25" height="8.06" fill="#008b8b"/><rect x="654.57" y="519.47" width="12.10" height="8.06" fill="#8b008b"/><rect x="665.67" y="519.47" width="44.33" height="8.06" fill="#ff8c00"/><rect x="136.00" y="526.53" width="45.02" height="7.36" fill="#008b8b"/><rect x="180.02" y="526.53" width="21.11" height="7.36" fill="#006400"/><rect x="200.13" y="526.53" width="4.09" height="7.36" fill="#008b8b"/><rect x="203.22" y="526.53" width="4.87" height="7.36" fill="#006400"/><rect x="207.09" y="526.53" width="5.64" height="7.36" fill="#008b8b"/><rect x="211.73" y="526.53" width="42.18" height="7.36" fill="#006400"/><rect x="252.91" y="526.53" width="13.95" height="7.36" fill="#ff8c00"/><rect x="265.86" y="526.53" width="4.09" height="7.36" fill="#8b008b"/><rect x="268.96" y="526.53" width="12.02" height="7.36" fill="#ff8c00"/><rect x="279.98" y="526.53" width="9.70" height="7.36" fill="#8b008b"/><rect x="288.68" y="526.53" width="135.24" height="7.36" fill="#008b8b"/><rect x="422.92" y="526.53" width="8.20" height="7.36" fill="#ff8c00"/><rect x="430.12" y="526.53" width="12.29" height="7.36" fill="#008b8b"/><rect x="441.41" y="526.53" width="39.93" height="7.36" fill="#ff8c00"/><rect x="480.35" y="526.53" width="24.75" height="7.36" fill="#006400"/><rect x="504.10" y="526.53" width="205.90" height="7.36" fill="#ff8c00"/></g>
<g><rect x="850.00" y="180.95" width="81.17" height="5.21" fill="#2ecc71"/><rect x="930.17" y="180.95" width="169.79" height="5.21" fill="#34495e"/><rect x="1098.97" y="180.95" width="35.22" height="5.21" fill="#2ecc71"/><rect x="1133.19" y="180.95" width="9.21" height="5.21" fill="#34495e"/><rect x="1141.40" y="180.95" width="92.88" height="5.21" fill="#2ecc71"/><rect x="1233.28" y="180.95" width="190.72" height="5.21" fill="#34495e"/><rect x="850.00" y="185.16" width="83.69" height="8.05" fill="#2ecc71"/><rect x="932.69" y="185.16" width="12.99" height="8.05" fill="#34495e"/><rect x="944.67" y="185.16" width="155.29" height="8.05" fill="#2ecc71"/><rect x="1098.97" y="185.16" width="123.24" height="8.05" fill="#34495e"/><rect x="1221.21" y="185.16" width="202.79" height="8.05" fill="#2ecc71"/><rect x="850.00" y="192.21" width="57.00" height="9.74" fill="#2ecc71"/><rect x="906.00" y="192.21" width="155.10" height="9.74" fill="#34495e"/><rect x="1060.10" y="192.21" width="55.33" height="9.74" fill="#2ecc71"/><rect x="1114.43" y="192.21" width="157.80" height="9.74" fill="#34495e"/><rect x="1271.24" y="192.21" width="152.76" height="9.74" fill="#2ecc71"/><rect x="850.00" y="200.95" width="81.17" height="8.05" fill="#34495e"/><rect x="930.17" y="200.95" width="214.95" height="8.05" fill="#2ecc71"/><rect x="1144.12" y="200.95" width="167.05" height="8.05" fill="#34495e"/><rect x="1310.17" y="200.95" width="5.48" height="8.05" fill="#2ecc71"/><rect x="1314.65" y="200.95" width="12.10" height="8.05" fill="#34495e"/><rect x="1325.75" y="200.95" width="8.20" height="8.05" fill="#2ecc71"/><rect x="1332.95" y="200.95" width="12.29" height="8.05" fill="#34495e"/><rect x="1344.24" y="200.95" width="79.76" height="8.05" fill="#2ecc71"/><rect x="850.00" y="208.00" width="249.97" height="8.37" fill="#34495e"/><rect x="1098.97" y="208.00" width="100.66" height="8.37" fill="#2ecc71"/><rect x="1198.63" y="208.00" width="12.29" height="8.37" fill="#34495e"/><rect x="1209.92" y="208.00" width="21.44" height="8.37" fill="#2ecc71"/><rect x="1230.36" y="208.00" width="177.56" height="8.37" fill="#34495e"/><rect x="1406.92" y="208.00" width="17.08" height="8.37" fill="#2ecc71"/><rect x="850.00" y="215.37" width="249.97" height="8.37" fill="#2ecc71"/><rect x="1098.97" y="215.37" width="46.16" height="8.37" fill="#34495e"/><rect x="1144.12" y="215.37" width="98.33" height="8.37" fill="#2ecc71"/><rect x="1241.46" y="215.37" width="12.29" height="8.37" fill="#34495e"/><rect x="1252.75" y="215.37" width="119.75" height="8.37" fill="#2ecc71"/><rect x="1371.49" y="215.37" width="27.86" height="8.37" fill="#34495e"/><rect x="1398.36" y="215.37" width="25.64" height="8.37" fill="#2ecc71"/><rect x="850.00" y="222.74" width="18.33" height="7.84" fill="#2ecc71"/><rect x="867.33" y="222.74" width="82.21" height="7.84" fill="#34495e"/><rect x="948.54" y="222.74" width="8.35" height="7.84" fill="#2ecc71"/><rect x="955.89" y="222.74" width="9.51" height="7.84" fill="#34495e"/><rect x="964.40" y="222.74" width="12.60" height="7.84" fill="#2ecc71"/><rect x="976.00" y="222.74" width="123.97" height="7.84" fill="#34495e"/><rect x="1098.97" y="222.74" width="20.72" height="7.84" fill="#2ecc71"/><rect x="1118.69" y="222.74" width="12.21" height="7.84" fill="#34495e"/><rect x="1129.90" y="222.74" width="151.49" height="7.84" fill="#2ecc71"/><rect x="1280.39" y="222.74" width="96.00" height="7.84" fill="#34495e"/><rect x="1375.39" y="222.74" width="48.61" height="7.84" fill="#2ecc71"/><rect x="850.00" y="229.58" width="142.46" height="8.16" fill="#34495e"/><rect x="991.46" y="229.58" width="181.50" height="8.16" fill="#2ecc71"/><rect x="1171.96" y="229.58" width="4.89" height="8.16" fill="#34495e"/><rect x="1175.85" y="229.58" width="5.48" height="8.16" fill="#2ecc71"/><rect x="1180.33" y="229.58" width="23.19" height="8.16" fill="#34495e"/><rect x="1202.52" y="229.58" width="167.05" height="8.16" fill="#2ecc71"/><rect x="1368.57" y="229.58" width="7.81" height="8.16" fill="#34495e"/><rect x="1375.39" y="229.58" width="13.07" height="8.16" fill="#2ecc71"/><rect x="1387.46" y="229.58" width="20.47" height="8.16" fill="#34495e"/><rect x="1406.92" y="229.58" width="17.08" height="8.16" fill="#2ecc71"/><rect x="850.00" y="236.74" width="103.80" height="9.63" fill="#34495e"/><rect x="952.80" y="236.74" width="15.69" height="9.63" fill="#2ecc71"/><rect x="967.49" y="236.74" width="16.47" height="9.63" fill="#34495e"/><rect x="982.96" y="236.74" width="105.41" height="9.63" fill="#2ecc71"/><rect x="1087.37" y="236.74" width="93.38" height="9.63" fill="#34495e"/><rect x="1179.75" y="236.74" width="244.25" height="9.63" fill="#2ecc71"/><rect x="850.00" y="245.37" width="249.97" height="8.16" fill="#2ecc71"/><rect x="1098.97" y="245.37" width="12.02" height="8.16" fill="#34495e"/><rect x="1109.99" y="245.37" width="62.97" height="8.16" fill="#2ecc71"/><rect x="1171.96" y="245.37" width="108.65" height="8.16" fill="#34495e"/><rect x="1279.61" y="245.37" width="15.99" height="8.16" fill="#2ecc71"/><rect x="1294.60" y="245.37" width="8.79" height="8.16" fill="#34495e"/><rect x="1302.39" y="245.37" width="121.61" height="8.16" fill="#2ecc71"/><rect x="850.00" y="252.53" width="92.77" height="8.05" fill="#2ecc71"/><rect x="941.77" y="252.53" width="73.51" height="8.05" fill="#34495e"/><rect x="1014.28" y="252.53" width="55.14" height="8.05" fill="#2ecc71"/><rect x="1068.42" y="252.53" width="27.10" height="8.05" fill="#34495e"/><rect x="1094.52" y="252.53" width="16.47" height="8.05" fill="#2ecc71"/><rect x="1109.99" y="252.53" width="12.60" height="8.05" fill="#34495e"/><rect x="1121.59" y="252.53" width="201.26" height="8.05" fill="#2ecc71"/><rect x="1321.85" y="252.53" width="70.50" height="8.05" fill="#34495e"/><rect x="1391.35" y="252.53" width="8.40" height="8.05" fill="#2ecc71"/><rect x="1398.75" y="252.53" width="9.18" height="8.05" fill="#34495e"/><rect x="1406.92" y="252.53" width="17.08" height="8.05" fill="#2ecc71"/><rect x="850.00" y="259.58" width="83.69" height="8.16" fill="#34495e"/><rect x="932.69" y="259.58" width="5.64" height="8.16" fill="#2ecc71"/><rect x="937.33" y="259.58" width="216.17" height="8.16" fill="#34495e"/><rect x="1152.49" y="259.58" width="13.26" height="8.16" fill="#2ecc71"/><rect x="1164.76" y="259.58" width="27.67" height="8.16" fill="#34495e"/><rect x="1191.43" y="259.58" width="12.68" height="8.16" fill="#2ecc71"/><rect x="1203.11" y="259.58" width="7.81" height="8.16" fill="#34495e"/><rect x="1209.92" y="259.58" width="5.87" height="8.16" fill="#2ecc71"/><rect x="1214.79" y="259.58" width="169.39" height="8.16" fill="#34495e"/><rect x="1383.17" y="259.58" width="40.83" height="8.16" fill="#2ecc71"/><rect x="850.00" y="266.74" width="357.03" height="8.05" fill="#34495e"/><rect x="1206.03" y="266.74" width="120.72" height="8.05" fill="#2ecc71"/><rect x="1325.75" y="266.74" width="98.25" height="8.05" fill="#34495e"/><rect x="850.00" y="273.79" width="30.90" height="9.74" fill="#2ecc71"/><rect x="879.90" y="273.79" width="8.15" height="9.74" fill="#34495e"/><rect x="887.06" y="273.79" width="8.35" height="9.74" fill="#2ecc71"/><rect x="894.40" y="273.79" width="89.55" height="9.74" fill="#34495e"/><rect x="982.96" y="273.79" width="50.69" height="9.74" fill="#2ecc71"/><rect x="1032.65" y="273.79" width="187.03" height="9.74" fill="#34495e"/><rect x="1218.68" y="273.79" width="12.68" height="9.74" fill="#2ecc71"/><rect x="1230.36" y="273.79" width="3.53" height="9.74" fill="#34495e"/><rect x="1232.89" y="273.79" width="162.57" height="9.74" fill="#2ecc71"/><rect x="1394.46" y="273.79" width="13.46" height="9.74" fill="#34495e"/><rect x="1406.92" y="273.79" width="17.08" height="9.74" fill="#2ecc71"/><rect x="850.00" y="282.53" width="111.14" height="8.05" fill="#34495e"/><rect x="960.14" y="282.53" width="16.47" height="8.05" fill="#2ecc71"/><rect x="975.61" y="282.53" width="289.43" height="8.05" fill="#34495e"/><rect x="1264.04" y="282.53" width="159.96" height="8.05" fill="#2ecc71"/><rect x="850.00" y="289.58" width="138.21" height="8.16" fill="#34495e"/><rect x="987.21" y="289.58" width="128.22" height="8.16" fill="#2ecc71"/><rect x="1114.43" y="289.58" width="62.42" height="8.16" fill="#34495e"/><rect x="1175.85" y="289.58" width="101.25" height="8.16" fill="#2ecc71"/><rect x="1276.11" y="289.58" width="16.18" height="8.16" fill="#34495e"/><rect x="1291.29" y="289.58" width="4.31" height="8.16" fill="#2ecc71"/><rect x="1294.60" y="289.58" width="129.40" height="8.16" fill="#34495e"/><rect x="850.00" y="296.74" width="38.06" height="8.05" fill="#2ecc71"/><rect x="887.06" y="296.74" width="5.45" height="8.05" fill="#34495e"/><rect x="891.50" y="296.74" width="96.71" height="8.05" fill="#2ecc71"/><rect x="987.21" y="296.74" width="73.89" height="8.05" fill="#34495e"/><rect x="1060.10" y="296.74" width="12.21" height="8.05" fill="#2ecc71"/><rect x="1071.32" y="296.74" width="21.30" height="8.05" fill="#34495e"/><rect x="1091.62" y="296.74" width="27.68" height="8.05" fill="#2ecc71"/><rect x="1118.30" y="296.74" width="20.20" height="8.05" fill="#34495e"/><rect x="1137.50" y="296.74" width="16.57" height="8.05" fill="#2ecc71"/><rect x="1153.08" y="296.74" width="85.10" height="8.05" fill="#34495e"/><rect x="1237.17" y="296.74" width="116.83" height="8.05" fill="#2ecc71"/><rect x="1353.00" y="296.74" width="71.00" height="8.05" fill="#34495e"/><rect x="850.00" y="303.79" width="45.02" height="8.05" fill="#34495e"/><rect x="894.02" y="303.79" width="101.54" height="8.05" fill="#2ecc71"/><rect x="994.56" y="303.79" width="197.87" height="8.05" fill="#34495e"/><rect x="1191.43" y="303.79" width="15.21" height="8.05" fill="#2ecc71"/><rect x="1205.64" y="303.79" width="28.64" height="8.05" fill="#34495e"/><rect x="1233.28" y="303.79" width="23.39" height="8.05" fill="#2ecc71"/><rect x="1255.67" y="303.79" width="21.05" height="8.05" fill="#34495e"/><rect x="1275.72" y="303.79" width="143.88" height="8.05" fill="#2ecc71"/><rect x="1418.60" y="303.79" width="5.40" height="8.05" fill="#34495e"/><rect x="850.00" y="310.84" width="81.17" height="9.53" fill="#34495e"/><rect x="930.17" y="310.84" width="150.85" height="9.53" fill="#2ecc71"/><rect x="1080.02" y="310.84" width="343.98" height="9.53" fill="#34495e"/><rect x="850.00" y="319.37" width="22.59" height="8.05" fill="#2ecc71"/><rect x="871.59" y="319.37" width="166.51" height="8.05" fill="#34495e"/><rect x="1037.10" y="319.37" width="97.09" height="8.05" fill="#2ecc71"/><rect x="1133.19" y="319.37" width="16.41" height="8.05" fill="#34495e"/><rect x="1148.60" y="319.37" width="7.81" height="8.05" fill="#2ecc71"/><rect x="1155.41" y="319.37" width="5.87" height="8.05" fill="#34495e"/><rect x="1160.28" y="319.37" width="9.37" height="8.05" fill="#2ecc71"/><rect x="1168.65" y="319.37" width="239.86" height="8.05" fill="#34495e"/><rect x="1407.51" y="319.37" width="16.49" height="8.05" fill="#2ecc71"/><rect x="850.00" y="326.42" width="130.86" height="8.16" fill="#2ecc71"/><rect x="979.86" y="326.42" width="39.67" height="8.16" fill="#34495e"/><rect x="1018.53" y="326.42" width="115.66" height="8.16" fill="#2ecc71"/><rect x="1133.19" y="326.42" width="48.14" height="8.16" fill="#34495e"/><rect x="1180.33" y="326.42" width="7.62" height="8.16" fill="#2ecc71"/><rect x="1186.95" y="326.42" width="6.06" height="8.16" fill="#34495e"/><rect x="1192.01" y="326.42" width="161.99" height="8.16" fill="#2ecc71"/><rect x="1353.00" y="326.42" width="71.00" height="8.16" fill="#34495e"/><rect x="850.00" y="333.58" width="15.43" height="8.37" fill="#2ecc71"/><rect x="864.43" y="333.58" width="28.07" height="8.37" fill="#34495e"/><rect x="891.50" y="333.58" width="42.57" height="8.37" fill="#2ecc71"/><rect x="933.07" y="333.58" width="9.12" height="8.37" fill="#34495e"/><rect x="941.19" y="333.58" width="8.35" height="8.37" fill="#2ecc71"/><rect x="948.54" y="333.58" width="32.32" height="8.37" fill="#34495e"/><rect x="979.86" y="333.58" width="4.09" height="8.37" fill="#2ecc71"/><rect x="982.96" y="333.58" width="216.67" height="8.37" fill="#34495e"/><rect x="1198.63" y="333.58" width="162.18" height="8.37" fill="#2ecc71"/><rect x="1359.81" y="333.58" width="12.68" height="8.37" fill="#34495e"/><rect x="1371.49" y="333.58" width="16.96" height="8.37" fill="#2ecc71"/><rect x="1387.46" y="333.58" width="36.54" height="8.37" fill="#34495e"/><rect x="850.00" y="340.95" width="27.04" height="8.05" fill="#34495e"/><rect x="876.04" y="340.95" width="16.47" height="8.05" fill="#2ecc71"/><rect x="891.50" y="340.95" width="62.29" height="8.05" fill="#34495e"/><rect x="952.80" y="340.95" width="23.82" height="8.05" fill="#2ecc71"/><rect x="975.61" y="340.95" width="12.60" height="8.05" fill="#34495e"/><rect x="987.21" y="340.95" width="266.92" height="8.05" fill="#2ecc71"/><rect x="1253.14" y="340.95" width="73.61" height="8.05" fill="#34495e"/><rect x="1325.75" y="340.95" width="98.25" height="8.05" fill="#2ecc71"/><rect x="850.00" y="348.00" width="76.73" height="8.16" fill="#34495e"/><rect x="925.73" y="348.00" width="117.01" height="8.16" fill="#2ecc71"/><rect x="1041.74" y="348.00" width="382.26" height="8.16" fill="#34495e"/><rect x="850.00" y="355.16" width="99.54" height="9.42" fill="#34495e"/><rect x="948.54" y="355.16" width="105.02" height="9.42" fill="#2ecc71"/><rect x="1052.56" y="355.16" width="8.54" height="9.42" fill="#34495e"/><rect x="1060.10" y="355.16" width="28.26" height="9.42" fill="#2ecc71"/><rect x="1087.37" y="355.16" width="4.87" height="9.42" fill="#34495e"/><rect x="1091.23" y="355.16" width="28.46" height="9.42" fill="#2ecc71"/><rect x="1118.69" y="355.16" width="131.16" height="9.42" fill="#34495e"/><rect x="1248.85" y="355.16" width="35.07" height="9.42" fill="#2ecc71"/><rect x="1282.92" y="355.16" width="93.86" height="9.42" fill="#34495e"/><rect x="1375.78" y="355.16" width="48.22" height="9.42" fill="#2ecc71"/><rect x="850.00" y="363.58" width="22.59" height="8.37" fill="#2ecc71"/><rect x="871.59" y="363.58" width="197.83" height="8.37" fill="#34495e"/><rect x="1068.42" y="363.58" width="96.76" height="8.37" fill="#2ecc71"/><rect x="1164.17" y="363.58" width="74.00" height="8.37" fill="#34495e"/><rect x="1237.17" y="363.58" width="186.83" height="8.37" fill="#2ecc71"/><rect x="850.00" y="370.95" width="18.33" height="8.37" fill="#34495e"/><rect x="867.33" y="370.95" width="175.01" height="8.37" fill="#2ecc71"/><rect x="1041.35" y="370.95" width="8.35" height="8.37" fill="#34495e"/><rect x="1048.70" y="370.95" width="108.11" height="8.37" fill="#2ecc71"/><rect x="1155.80" y="370.95" width="71.08" height="8.37" fill="#34495e"/><rect x="1225.88" y="370.95" width="198.12" height="8.37" fill="#2ecc71"/><rect x="850.00" y="378.32" width="133.96" height="8.36" fill="#34495e"/><rect x="982.96" y="378.32" width="412.51" height="8.36" fill="#2ecc71"/><rect x="1394.46" y="378.32" width="9.57" height="8.36" fill="#34495e"/><rect x="1403.03" y="378.32" width="12.68" height="8.36" fill="#2ecc71"/><rect x="1414.71" y="378.32" width="9.29" height="8.36" fill="#34495e"/><rect x="850.00" y="385.68" width="65.13" height="7.95" fill="#2ecc71"/><rect x="914.13" y="385.68" width="81.43" height="7.95" fill="#34495e"/><rect x="994.56" y="385.68" width="248.48" height="7.95" fill="#2ecc71"/><rect x="1242.04" y="385.68" width="84.71" height="7.95" fill="#34495e"/><rect x="1325.75" y="385.68" width="98.25" height="7.95" fill="#2ecc71"/><rect x="850.00" y="392.63" width="88.33" height="9.42" fill="#2ecc71"/><rect x="937.33" y="392.63" width="212.27" height="9.42" fill="#34495e"/><rect x="1148.60" y="392.63" width="89.57" height="9.42" fill="#2ecc71"/><rect x="1237.17" y="392.63" width="121.30" height="9.42" fill="#34495e"/><rect x="1357.48" y="392.63" width="3.73" height="9.42" fill="#2ecc71"/><rect x="1360.20" y="392.63" width="63.80" height="9.42" fill="#34495e"/><rect x="850.00" y="401.05" width="10.99" height="8.05" fill="#34495e"/><rect x="859.99" y="401.05" width="17.05" height="8.05" fill="#2ecc71"/><rect x="876.04" y="401.05" width="234.95" height="8.05" fill="#34495e"/><rect x="1109.99" y="401.05" width="116.89" height="8.05" fill="#2ecc71"/><rect x="1225.88" y="401.05" width="128.12" height="8.05" fill="#34495e"/><rect x="1353.00" y="401.05" width="71.00" height="8.05" fill="#2ecc71"/><rect x="850.00" y="408.10" width="103.80" height="8.16" fill="#34495e"/><rect x="952.80" y="408.10" width="23.82" height="8.16" fill="#2ecc71"/><rect x="975.61" y="408.10" width="448.39" height="8.16" fill="#34495e"/><rect x="850.00" y="415.26" width="10.99" height="8.37" fill="#2ecc71"/><rect x="859.99" y="415.26" width="28.07" height="8.37" fill="#34495e"/><rect x="887.06" y="415.26" width="108.50" height="8.37" fill="#2ecc71"/><rect x="994.56" y="415.26" width="5.25" height="8.37" fill="#34495e"/><rect x="998.81" y="415.26" width="101.15" height="8.37" fill="#2ecc71"/><rect x="1098.97" y="415.26" width="205.00" height="8.37" fill="#34495e"/><rect x="1302.97" y="415.26" width="77.70" height="8.37" fill="#2ecc71"/><rect x="1379.67" y="415.26" width="44.33" height="8.37" fill="#34495e"/><rect x="850.00" y="422.63" width="138.60" height="8.05" fill="#2ecc71"/><rect x="987.60" y="422.63" width="18.98" height="8.05" fill="#34495e"/><rect x="1005.58" y="422.63" width="418.42" height="8.05" fill="#2ecc71"/><rect x="850.00" y="429.68" width="38.06" height="9.42" fill="#34495e"/><rect x="887.06" y="429.68" width="39.67" height="9.42" fill="#2ecc71"/><rect x="925.73" y="429.68" width="5.45" height="9.42" fill="#34495e"/><rect x="930.17" y="429.68" width="8.15" height="9.42" fill="#2ecc71"/><rect x="937.33" y="429.68" width="5.45" height="9.42" fill="#34495e"/><rect x="941.77" y="429.68" width="64.81" height="9.42" fill="#2ecc71"/><rect x="1005.58" y="429.68" width="214.10" height="9.42" fill="#34495e"/><rect x="1218.68" y="429.68" width="19.49" height="9.42" fill="#2ecc71"/><rect x="1237.17" y="429.68" width="135.32" height="9.42" fill="#34495e"/><rect x="1371.49" y="429.68" width="52.51" height="9.42" fill="#2ecc71"/><rect x="850.00" y="438.10" width="95.67" height="8.37" fill="#2ecc71"/><rect x="944.67" y="438.10" width="166.31" height="8.37" fill="#34495e"/><rect x="1109.99" y="438.10" width="116.89" height="8.37" fill="#2ecc71"/><rect x="1225.88" y="438.10" width="198.12" height="8.37" fill="#34495e"/><rect x="850.00" y="445.47" width="10.99" height="8.16" fill="#34495e"/><rect x="859.99" y="445.47" width="235.53" height="8.16" fill="#2ecc71"/><rect x="1094.52" y="445.47" width="139.76" height="8.16" fill="#34495e"/><rect x="1233.28" y="445.47" width="81.79" height="8.16" fill="#2ecc71"/><rect x="1314.07" y="445.47" width="5.48" height="8.16" fill="#34495e"/><rect x="1318.54" y="445.47" width="12.10" height="8.16" fill="#2ecc71"/><rect x="1329.64" y="445.47" width="94.36" height="8.16" fill="#34495e"/><rect x="850.00" y="452.63" width="33.80" height="8.05" fill="#34495e"/><rect x="882.80" y="452.63" width="9.70" height="8.05" fill="#2ecc71"/><rect x="891.50" y="452.63" width="42.57" height="8.05" fill="#34495e"/><rect x="933.07" y="452.63" width="105.02" height="8.05" fill="#2ecc71"/><rect x="1037.10" y="452.63" width="382.51" height="8.05" fill="#34495e"/><rect x="1418.60" y="452.63" width="5.40" height="8.05" fill="#2ecc71"/><rect x="850.00" y="459.68" width="433.92" height="8.16" fill="#34495e"/><rect x="1282.92" y="459.68" width="24.94" height="8.16" fill="#2ecc71"/><rect x="1306.86" y="459.68" width="117.14" height="8.16" fill="#34495e"/><rect x="850.00" y="466.84" width="574.00" height="8.05" fill="#34495e"/><rect x="850.00" y="473.89" width="18.33" height="9.43" fill="#34495e"/><rect x="867.33" y="473.89" width="28.07" height="9.43" fill="#2ecc71"/><rect x="894.40" y="473.89" width="132.48" height="9.43" fill="#34495e"/><rect x="1025.88" y="473.89" width="93.81" height="9.43" fill="#2ecc71"/><rect x="1118.69" y="473.89" width="176.91" height="9.43" fill="#34495e"/><rect x="1294.60" y="473.89" width="13.26" height="9.43" fill="#2ecc71"/><rect x="1306.86" y="473.89" width="117.14" height="9.43" fill="#34495e"/><rect x="850.00" y="482.32" width="111.14" height="8.36" fill="#34495e"/><rect x="960.14" y="482.32" width="55.14" height="8.36" fill="#2ecc71"/><rect x="1014.28" y="482.32" width="5.25" height="8.36" fill="#34495e"/><rect x="1018.53" y="482.32" width="35.42" height="8.36" fill="#2ecc71"/><rect x="1052.95" y="482.32" width="181.33" height="8.36" fill="#34495e"/><rect x="1233.28" y="482.32" width="182.04" height="8.36" fill="#2ecc71"/><rect x="1414.32" y="482.32" width="9.68" height="8.36" fill="#34495e"/><rect x="850.00" y="489.68" width="81.17" height="8.16" fill="#34495e"/><rect x="930.17" y="489.68" width="69.64" height="8.16" fill="#2ecc71"/><rect x="998.81" y="489.68" width="170.84" height="8.16" fill="#34495e"/><rect x="1168.65" y="489.68" width="255.35" height="8.16" fill="#2ecc71"/><rect x="850.00" y="496.84" width="18.33" height="8.05" fill="#34495e"/><rect x="867.33" y="496.84" width="39.28" height="8.05" fill="#2ecc71"/><rect x="905.62" y="496.84" width="10.09" height="8.05" fill="#34495e"/><rect x="914.71" y="496.84" width="50.69" height="8.05" fill="#2ecc71"/><rect x="964.40" y="496.84" width="7.96" height="8.05" fill="#34495e"/><rect x="971.36" y="496.84" width="120.88" height="8.05" fill="#2ecc71"/><rect x="1091.23" y="496.84" width="332.77" height="8.05" fill="#34495e"/><rect x="850.00" y="503.89" width="18.33" height="8.16" fill="#2ecc71"/><rect x="867.33" y="503.89" width="70.99" height="8.16" fill="#34495e"/><rect x="937.33" y="503.89" width="119.52" height="8.16" fill="#2ecc71"/><rect x="1055.85" y="503.89" width="182.32" height="8.16" fill="#34495e"/><rect x="1237.17" y="503.89" width="51.22" height="8.16" fill="#2ecc71"/><rect x="1287.40" y="503.89" width="136.60" height="8.16" fill="#34495e"/><rect x="850.00" y="511.05" width="143.04" height="9.42" fill="#2ecc71"/><rect x="992.04" y="511.05" width="264.62" height="9.42" fill="#34495e"/><rect x="1255.67" y="511.05" width="82.76" height="9.42" fill="#2ecc71"/><rect x="1337.43" y="511.05" width="86.57" height="9.42" fill="#34495e"/><rect x="850.00" y="519.47" width="176.88" height="8.06" fill="#2ecc71"/><rect x="1025.88" y="519.47" width="50.88" height="8.06" fill="#34495e"/><rect x="1075.76" y="519.47" width="123.86" height="8.06" fill="#2ecc71"/><rect x="1198.63" y="519.47" width="51.22" height="8.06" fill="#34495e"/><rect x="1248.85" y="519.47" width="175.15" height="8.06" fill="#2ecc71"/><rect x="850.00" y="526.53" width="211.30" height="7.36" fill="#34495e"/><rect x="1060.30" y="526.53" width="104.88" height="7.36" fill="#2ecc71"/><rect x="1164.17" y="526.53" width="51.03" height="7.36" fill="#34495e"/><rect x="1214.20" y="526.53" width="169.97" height="7.36" fill="#2ecc71"/><rect x="1383.17" y="526.53" width="40.83" height="7.36" fill="#34495e"/></g>

<!-- raster frames -->
<rect x="135" y="180.2" width="575.8" height="354.3" fill="none" stroke="#000" stroke-width="1.8"/>
<rect x="849.2" y="180.1" width="575.8" height="354.6" fill="none" stroke="#000" stroke-width="1.7"/>
<g fill="#555"><rect x="867.5" y="175.7" width="3" height="1.3"/><rect x="966.5" y="175.7" width="3" height="1.3"/><rect x="1154.5" y="175.7" width="3" height="1.3"/></g>

<use href="#one" x="113.9" y="215"/>
<text x="87" y="540.3" font-size="36">48</text>
<text transform="translate(100,447.2) rotate(-90)" font-size="35.6">participants</text>
<circle cx="120.2" cy="332.3" r="2.6" fill="#000"/><circle cx="120.2" cy="346.2" r="2.6" fill="#000"/><circle cx="120.2" cy="359.7" r="2.6" fill="#000"/>
<use href="#one" x="140.9" y="567.1"/>
<use href="#one" x="688.7" y="567.6"/><text x="695.2" y="567.6" font-size="36">50</text>
<ellipse cx="412.3" cy="566.1" rx="2.8" ry="2.3" fill="#000"/><ellipse cx="425.6" cy="566.1" rx="2.8" ry="2.3" fill="#000"/><ellipse cx="438.9" cy="566.1" rx="2.8" ry="2.3" fill="#000"/>
<text x="373.4" y="605.3" font-size="36">time (s)</text>

<use href="#one" x="854.8" y="566.8"/>
<use href="#one" x="1402.9" y="567.6"/><text x="1409.4" y="567.6" font-size="36">50</text>
<ellipse cx="1127.1" cy="566.1" rx="2.8" ry="2.3" fill="#000"/><ellipse cx="1140.4" cy="566.1" rx="2.8" ry="2.3" fill="#000"/><ellipse cx="1153.7" cy="566.1" rx="2.8" ry="2.3" fill="#000"/>
<text x="1087.7" y="605.3" font-size="36">time (s)</text>

<!-- panel b -->
<text x="8.7" y="676.3" font-size="40" font-weight="bold">b.</text>
<text x="60" y="676" font-size="35.8">Time-varying cognitive network interaction index (CNII)</text>
<text x="290.6" y="770" font-size="36">Children with ASD</text>
<text x="912" y="770" font-size="36">Typically-developing children</text>

<!-- left b axes -->
<rect x="218.2" y="792" width="3.8" height="284" fill="#efefef"/>
<rect x="214.7" y="786.8" width="3.5" height="294" fill="#111"/>
<g fill="#444">
<rect x="218" y="787.2" width="13.6" height="3"/>
<rect x="218" y="860.4" width="13.6" height="3"/>
<rect x="218" y="933.8" width="13.6" height="3"/>
<rect x="218" y="1007.6" width="13.6" height="3"/>
<rect x="218" y="1078" width="13.2" height="2.8" fill="#c8c8c8"/>
</g>
<g font-size="36" text-anchor="end">
<text x="198" y="800.8">0.5</text>
<text x="198" y="872.2">0.25</text>
<text x="199" y="950.8">0.0</text>
<text x="200" y="1023.3">-0.25</text>
<text x="199" y="1092.8">-0.5</text>
</g>
<text transform="translate(133.6,967.5) rotate(-90)" font-size="35.3">CNII</text>
<rect x="260.5" y="932.4" width="50.2" height="33.9" fill="#ff8c00"/>
<rect x="361.1" y="858.8" width="49.8" height="73.6" fill="#008b8b"/>
<rect x="461.3" y="932.4" width="50.2" height="95.2" fill="#006400"/>
<rect x="561.9" y="920.9" width="50.6" height="11.5" fill="#8b008b"/>
<g stroke="#333" stroke-width="1.3">
<line x1="285.9" y1="951.3" x2="285.9" y2="982"/>
<line x1="386.4" y1="846.8" x2="386.4" y2="871.9"/>
<line x1="486.9" y1="1012.9" x2="486.9" y2="1042"/>
<line x1="587.2" y1="904.7" x2="587.2" y2="938"/>
</g>
<g stroke="#f3f3f3" stroke-width="1.2">
<line x1="249.5" y1="1082.5" x2="688" y2="1082.5"/>
<line x1="319.6" y1="1117" x2="499.5" y2="1117"/>
<line x1="665" y1="1117" x2="780" y2="1117"/>
</g>
<text x="273.5" y="1138.3" font-size="36">S</text><use href="#one" x="310.9" y="1138.2"/>
<text x="561" y="1137.9" font-size="36">S4</text>
<ellipse cx="420.3" cy="1137.5" rx="2.8" ry="2.3" fill="#000"/><ellipse cx="434" cy="1137.5" rx="2.8" ry="2.3" fill="#000"/><ellipse cx="446.7" cy="1137.5" rx="2.8" ry="2.3" fill="#000"/>

<!-- right b axes -->
<rect x="859.6" y="795" width="3.4" height="280" fill="#ebebeb"/>
<rect x="856.2" y="787" width="3.5" height="293.8" fill="#111"/>
<g fill="#333">
<rect x="859" y="787.3" width="12.2" height="2.9"/>
<rect x="859" y="860.3" width="12.2" height="2.9"/>
<rect x="859" y="933.8" width="12.2" height="2.9"/>
<rect x="859" y="1007.3" width="12.2" height="2.9"/>
<rect x="859" y="1077.8" width="11.8" height="3" fill="#c0c0c0"/>
</g>
<rect x="907.2" y="894.5" width="49.9" height="39.3" fill="#2ecc71"/>
<rect x="1007.7" y="883.9" width="49.9" height="49.9" fill="#34495e"/>
<g stroke="#222" stroke-width="1.3">
<line x1="932.5" y1="884.7" x2="932.5" y2="904.1"/>
<line x1="1033.1" y1="873.2" x2="1033.1" y2="894.8"/>
</g>
<line x1="892" y1="1083.7" x2="1334" y2="1083.7" stroke="#f3f3f3" stroke-width="1.2"/>
<text x="910.3" y="1135.7" font-size="36">S</text><use href="#one" x="947.7" y="1135.6"/>
<text x="1010" y="1136" font-size="36">S2</text>

<!-- panel c -->
<text x="11.6" y="1240" font-size="40" font-weight="bold">c.</text>
<text x="59" y="1240" font-size="35.8">Mean and variability of CNII</text>
<!-- legend -->
<rect x="973" y="1267.5" width="31.8" height="26.5" fill="#fff" stroke="#000" stroke-width="4.3"/>
<rect x="973" y="1315.5" width="31.8" height="27" fill="#808080" stroke="#000" stroke-width="4.3"/>
<text x="1034.5" y="1292.6" font-size="36">Children with ASD</text>
<text x="1035" y="1339.4" font-size="36">Typically-developing children</text>

<!-- c left -->
<rect x="214.5" y="1416" width="3.2" height="282" fill="#2a2a2a"/>
<rect x="203" y="1415.5" width="12" height="3" fill="#2a2a2a"/>
<rect x="203" y="1601" width="12" height="3" fill="#2a2a2a"/>
<text x="193" y="1431" font-size="36" text-anchor="end">0.2</text>
<text x="193" y="1616" font-size="36" text-anchor="end">0.0</text>
<text transform="translate(135,1639) rotate(-90)" font-size="36">Mean CNII</text>
<rect x="233.5" y="1602.5" width="142.5" height="34" fill="#fff" stroke="#000" stroke-width="5"/>
<rect x="411.5" y="1464.5" width="143" height="138" fill="#808080" stroke="#000" stroke-width="5"/>
<line x1="304.4" y1="1581.5" x2="304.4" y2="1695" stroke="#444" stroke-width="5" stroke-linecap="round"/>
<line x1="483" y1="1417.6" x2="483" y2="1520.5" stroke="#444" stroke-width="5" stroke-linecap="round"/>
<rect x="214.5" y="1694" width="359.5" height="3.8" fill="#222"/>
<use href="#ast" x="334.3" y="1407.5"/><use href="#ast" x="352.9" y="1407.5"/><use href="#ast" x="371.5" y="1407.5"/>

<!-- c right -->
<rect x="856.6" y="1416" width="3.4" height="282" fill="#2a2a2a"/>
<rect x="844.4" y="1415.5" width="12.5" height="3" fill="#2a2a2a"/>
<rect x="844.4" y="1554.5" width="12.5" height="3" fill="#2a2a2a"/>
<rect x="844.4" y="1694" width="12.5" height="3" fill="#2a2a2a"/>
<text x="835" y="1430" font-size="36" text-anchor="end">0.4</text>
<text x="835" y="1568.4" font-size="36" text-anchor="end">0.2</text>
<text x="835" y="1708" font-size="36" text-anchor="end">0.0</text>
<text transform="translate(777.3,1687.2) rotate(-90)" font-size="36">Variability of CNII</text>
<rect x="874.9" y="1522.1" width="142.6" height="173.9" fill="#fff" stroke="#000" stroke-width="5"/>
<rect x="1053.8" y="1636.1" width="142.5" height="59.9" fill="#808080" stroke="#000" stroke-width="5"/>
<line x1="946.6" y1="1499" x2="946.6" y2="1542" stroke="#444" stroke-width="5" stroke-linecap="round"/>
<line x1="1124.9" y1="1621" x2="1124.9" y2="1649" stroke="#444" stroke-width="5" stroke-linecap="round"/>
<rect x="856.6" y="1694.3" width="359" height="4" fill="#222"/>
<use href="#ast" x="1023.3" y="1407.5"/><use href="#ast" x="1042" y="1407.5"/><use href="#ast" x="1060.6" y="1407.5"/>
</svg>
</body></html>
